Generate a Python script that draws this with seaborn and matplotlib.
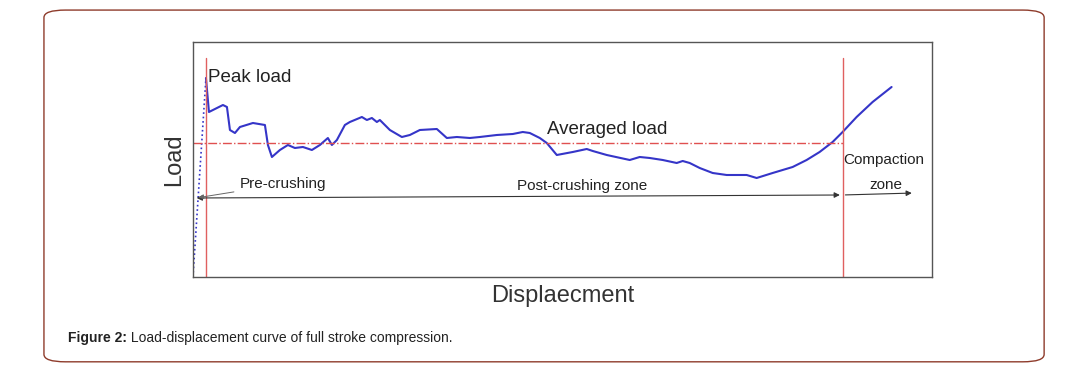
import matplotlib
matplotlib.use("Agg")
import matplotlib.pyplot as plt
import numpy as np
import pandas as pd
import seaborn as sns
from matplotlib.patches import FancyBboxPatch

# load-displacement curve (arbitrary units)
displacement = [13, 16, 30, 34, 37, 42, 47, 60, 72, 75, 79, 87, 95, 102, 110, 119, 127, 135,
                139, 144, 152, 157, 169, 174, 179, 184, 187, 197, 209, 217, 227, 244, 254, 264,
                277, 287, 304, 320, 330, 337, 347, 354, 364, 380, 394, 400, 414, 437, 447, 457,
                470, 484, 490, 497, 507, 520, 534, 554, 564, 580, 600, 614, 627, 640, 650, 664,
                680, 699]
load = [199, 165, 172, 170, 147, 144, 150, 154, 152, 132, 120, 127, 132, 129, 130, 127, 132, 139,
        132, 137, 152, 155, 160, 157, 159, 155, 157, 147, 140, 142, 147, 148, 139, 140,
        139, 140, 142, 143, 145, 144, 139, 134, 122, 125, 128, 126, 122, 117, 120, 119,
        117, 114, 116, 114, 109, 104, 102, 102, 99, 104, 110, 117, 125, 135, 145, 160,
        175, 190]
rise_disp = [0, 13]
rise_load = [0, 199]
averaged_load = 134
zone_bounds = [13, 650]
x_max, y_max = 739, 235

sns.set_theme(style="white")
plt.rcParams["font.family"] = ["Liberation Sans", "DejaVu Sans"]

fig = plt.figure(figsize=(10.72, 3.73), dpi=100)
fig.patches.append(FancyBboxPatch((0.041, 0.03), 0.933, 0.943,
                                  boxstyle="round,pad=0,rounding_size=0.02",
                                  transform=fig.transFigure, fill=False,
                                  edgecolor="#8e3b2b", linewidth=1.0))
ax = fig.add_axes([0.180, 0.2574, 0.689, 0.630])

df = pd.DataFrame({"disp": displacement, "load": load})
sns.lineplot(data=df, x="disp", y="load", ax=ax, color="#3535c8", linewidth=1.5,
             sort=False)
ax.plot(rise_disp, rise_load, color="#3535c8", linestyle=":", linewidth=1.2)

# averaged load and zone boundaries
ax.axhline(averaged_load, color="#e05050", linestyle="-.", linewidth=1.0, xmax=650 / x_max)
for xb in zone_bounds:
    ax.plot([xb, xb], [0, 219], color="#e06060", linewidth=1.0)

# zone arrows
arr = dict(arrowstyle="<|-|>", color="#333333", lw=0.8, mutation_scale=8)
ax.annotate("", xy=(1, 79), xytext=(zone_bounds[1], 82), arrowprops=arr)
ax.annotate("", xy=(722, 84), xytext=(zone_bounds[1], 82),
            arrowprops=dict(arrowstyle="-|>", color="#333333", lw=0.8, mutation_scale=8))
ax.annotate("Pre-crushing", xy=(3, 79), xytext=(47, 93), fontsize=11, color="#222222",
            va="center", arrowprops=dict(arrowstyle="-|>", color="#666666", lw=0.7,
                                         mutation_scale=7))

ax.text(15, 199, "Peak load", fontsize=13.5, color="#222222", va="center")
ax.text(354, 147, "Averaged load", fontsize=13.5, color="#222222", va="center")
ax.text(324, 91, "Post-crushing zone", fontsize=11, color="#222222", va="center")
ax.text(651, 117, "Compaction", fontsize=11, color="#222222", va="center")
ax.text(677, 92, "zone", fontsize=11, color="#222222", va="center")

ax.set_xlim(0, x_max)
ax.set_ylim(0, y_max)
ax.set_xticks([])
ax.set_yticks([])
ax.set_xlabel("Displaecment", fontsize=17, color="#333333", labelpad=6)
ax.set_ylabel("Load", fontsize=17, color="#333333", labelpad=6)
for s in ax.spines.values():
    s.set_color("#555555")
    s.set_linewidth(1.0)

cap = fig.text(0.063, 0.083, "Figure 2:", fontsize=10, fontweight="bold", color="#222222")
ax.annotate(" Load-displacement curve of full stroke compression.", xy=(1, 0),
            xycoords=cap, va="bottom", ha="left", fontsize=10, color="#222222",
            annotation_clip=False)

fig.savefig("out.png", dpi=100)
